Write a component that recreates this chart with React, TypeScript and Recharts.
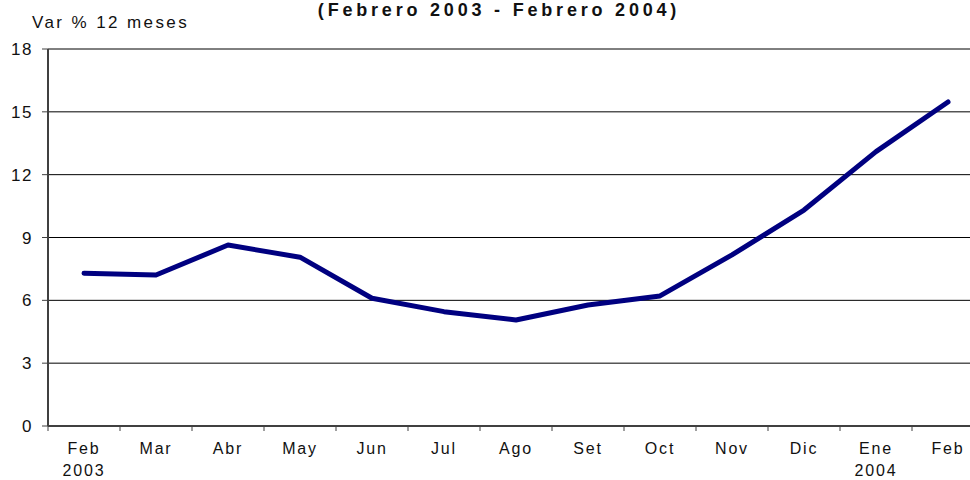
import { CartesianGrid, Line, LineChart, XAxis, YAxis } from "recharts";

// Variación % 12 meses, Feb 2003 – Feb 2004
const months = ["Feb", "Mar", "Abr", "May", "Jun", "Jul", "Ago", "Set", "Oct", "Nov", "Dic", "Ene", "Feb"];
const years = ["2003", "", "", "", "", "", "", "", "", "", "", "2004", ""];
const values = [7.29, 7.21, 8.64, 8.06, 6.1, 5.46, 5.06, 5.78, 6.21, 8.17, 10.31, 13.1, 15.47];
const yTicks = [0, 3, 6, 9, 12, 15, 18];

const data = months.map((m, i) => ({ x: i + 0.5, month: m, year: years[i], value: values[i] }));
const xTicks = data.map((d) => d.x);

const FONT = "'Liberation Sans', Arial, sans-serif";
const HALF_BAND = 36;

function MonthTick(props: any) {
  const { x, y, index } = props;
  const d = data[index];
  return (
    <g>
      <line x1={x - HALF_BAND} x2={x - HALF_BAND} y1={y - 8} y2={y - 3} stroke="#404040" strokeWidth={1} />
      <text x={x} y={y + 20} textAnchor="middle" fontFamily={FONT} fontSize={16} letterSpacing={1.8} fill="#111">
        {d.month}
      </text>
      {d.year && (
        <text x={x} y={y + 42} textAnchor="middle" fontFamily={FONT} fontSize={16} letterSpacing={1.8} fill="#111">
          {d.year}
        </text>
      )}
    </g>
  );
}

export default function App() {
  return (
    <div style={{ position: "absolute", left: 0, top: 0, width: 970, height: 480, overflow: "hidden", background: "#fff" }}>
      <LineChart width={984} height={480} data={data} margin={{ top: 49, right: 0, bottom: 0, left: 0 }}>
        <CartesianGrid vertical={false} stroke="#000" strokeWidth={1} />
        <XAxis
          dataKey="x"
          type="number"
          domain={[0, 13]}
          ticks={xTicks}
          height={54}
          tickLine={false}
          axisLine={{ stroke: "#404040", strokeWidth: 2 }}
          tick={<MonthTick />}
          interval={0}
        />
        <YAxis
          domain={[0, 18]}
          ticks={yTicks}
          width={48}
          tickSize={6}
          tickMargin={9}
          axisLine={{ stroke: "#404040", strokeWidth: 2 }}
          tickLine={{ stroke: "#404040" }}
          tick={{ fontFamily: FONT, fontSize: 17, fill: "#111", letterSpacing: 1.5 }}
        />
        <Line
          dataKey="value"
          stroke="#000080"
          strokeWidth={5}
          dot={false}
          isAnimationActive={false}
          strokeLinecap="round"
          strokeLinejoin="round"
        />
      </LineChart>
      <div
        style={{
          position: "absolute",
          left: 299,
          top: 0,
          width: 400,
          textAlign: "center",
          fontFamily: FONT,
          fontWeight: "bold",
          fontSize: 18,
          letterSpacing: 3.8,
          color: "#111",
          whiteSpace: "nowrap",
        }}
      >
        (Febrero 2003 - Febrero 2004)
      </div>
      <div
        style={{
          position: "absolute",
          left: 32,
          top: 13,
          fontFamily: FONT,
          fontSize: 17,
          letterSpacing: 2.4,
          color: "#111",
          whiteSpace: "nowrap",
        }}
      >
        Var % 12 meses
      </div>
    </div>
  );
}
